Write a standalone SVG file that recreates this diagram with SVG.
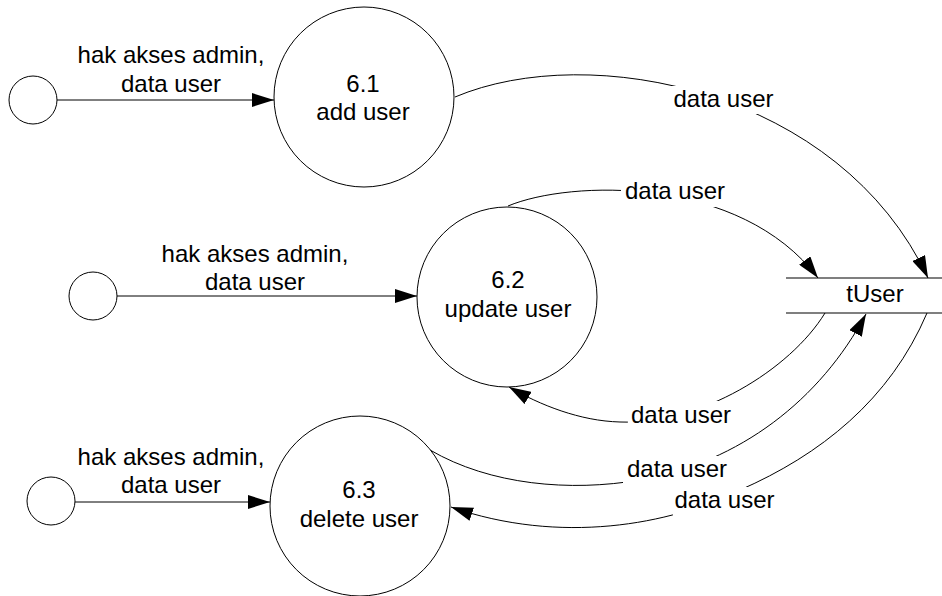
<svg xmlns="http://www.w3.org/2000/svg" width="942" height="596" viewBox="0 0 942 596">
<defs>
<style>
.node{fill:#fff;stroke:#000;stroke-width:1}
.t{font-family:"Liberation Sans",Arial,sans-serif;font-size:24px;fill:#000;text-anchor:middle}
.flow{fill:none;stroke:#000;stroke-width:1}
.store{stroke:#000;stroke-width:1.2}
.bg{fill:#fff;stroke:none}
</style>
<marker id="ah" markerUnits="userSpaceOnUse" markerWidth="22" markerHeight="14" viewBox="0 0 22 14" refX="22" refY="7" orient="auto">
<path d="M0,0 L22,7 L0,14 z" fill="#000"/>
</marker>
</defs>
<rect width="942" height="596" fill="#fff"/>

<g id="connectors">
<line class="flow" x1="57" y1="100" x2="274" y2="100" marker-end="url(#ah)"/>
<line class="flow" x1="117" y1="296" x2="417" y2="296" marker-end="url(#ah)"/>
<line class="flow" x1="75" y1="502" x2="270" y2="502" marker-end="url(#ah)"/>
<path class="flow" d="M455,97 C590,40 840,90 928,278" marker-end="url(#ah)"/>
<path class="flow" d="M508,206 C570,180 740,175 818,278" marker-end="url(#ah)"/>
<path class="flow" d="M825,313 C790,370 700,425 620,422 C580,421 540,405 509,387" marker-end="url(#ah)"/>
<path class="flow" d="M430,450 C490,485 570,492 640,480 C740,462 820,400 866,314" marker-end="url(#ah)"/>
<path class="flow" d="M927,313 C890,400 820,455 740,490 C670,525 560,545 451,507" marker-end="url(#ah)"/>
<rect class="bg" x="670" y="86" width="107" height="28"/>
<rect class="bg" x="621" y="180" width="108" height="27"/>
<rect class="bg" x="628" y="401" width="106" height="29"/>
<rect class="bg" x="623" y="456" width="105" height="29"/>
<rect class="bg" x="673" y="487" width="105" height="29"/>
<text class="t" x="171" y="63">hak akses admin,</text>
<text class="t" x="171" y="92">data user</text>
<text class="t" x="255" y="262">hak akses admin,</text>
<text class="t" x="255" y="290">data user</text>
<text class="t" x="171" y="465">hak akses admin,</text>
<text class="t" x="171" y="493">data user</text>
<text class="t" x="723.5" y="107">data user</text>
<text class="t" x="675" y="199">data user</text>
<text class="t" x="681" y="423">data user</text>
<text class="t" x="677" y="477">data user</text>
<text class="t" x="724.5" y="508">data user</text>
</g>

<g id="ext1"><circle class="node" cx="33" cy="100" r="24"/></g>
<g id="ext2"><circle class="node" cx="93" cy="296" r="24"/></g>
<g id="ext3"><circle class="node" cx="51" cy="501" r="24"/></g>

<g id="p61">
<circle class="node" cx="364" cy="97" r="90"/>
<text class="t" x="363" y="92">6.1</text>
<text class="t" x="363" y="120">add user</text>
</g>
<g id="p62">
<circle class="node" cx="507" cy="297" r="90"/>
<text class="t" x="508" y="288">6.2</text>
<text class="t" x="508" y="317">update user</text>
</g>
<g id="p63">
<circle class="node" cx="360" cy="506" r="90"/>
<text class="t" x="359" y="498">6.3</text>
<text class="t" x="359" y="527">delete user</text>
</g>

<g id="tUser">
<line class="store" x1="786" y1="278" x2="942" y2="278"/>
<line class="store" x1="786" y1="313" x2="942" y2="313"/>
<text class="t" x="875" y="302">tUser</text>
</g>
</svg>
